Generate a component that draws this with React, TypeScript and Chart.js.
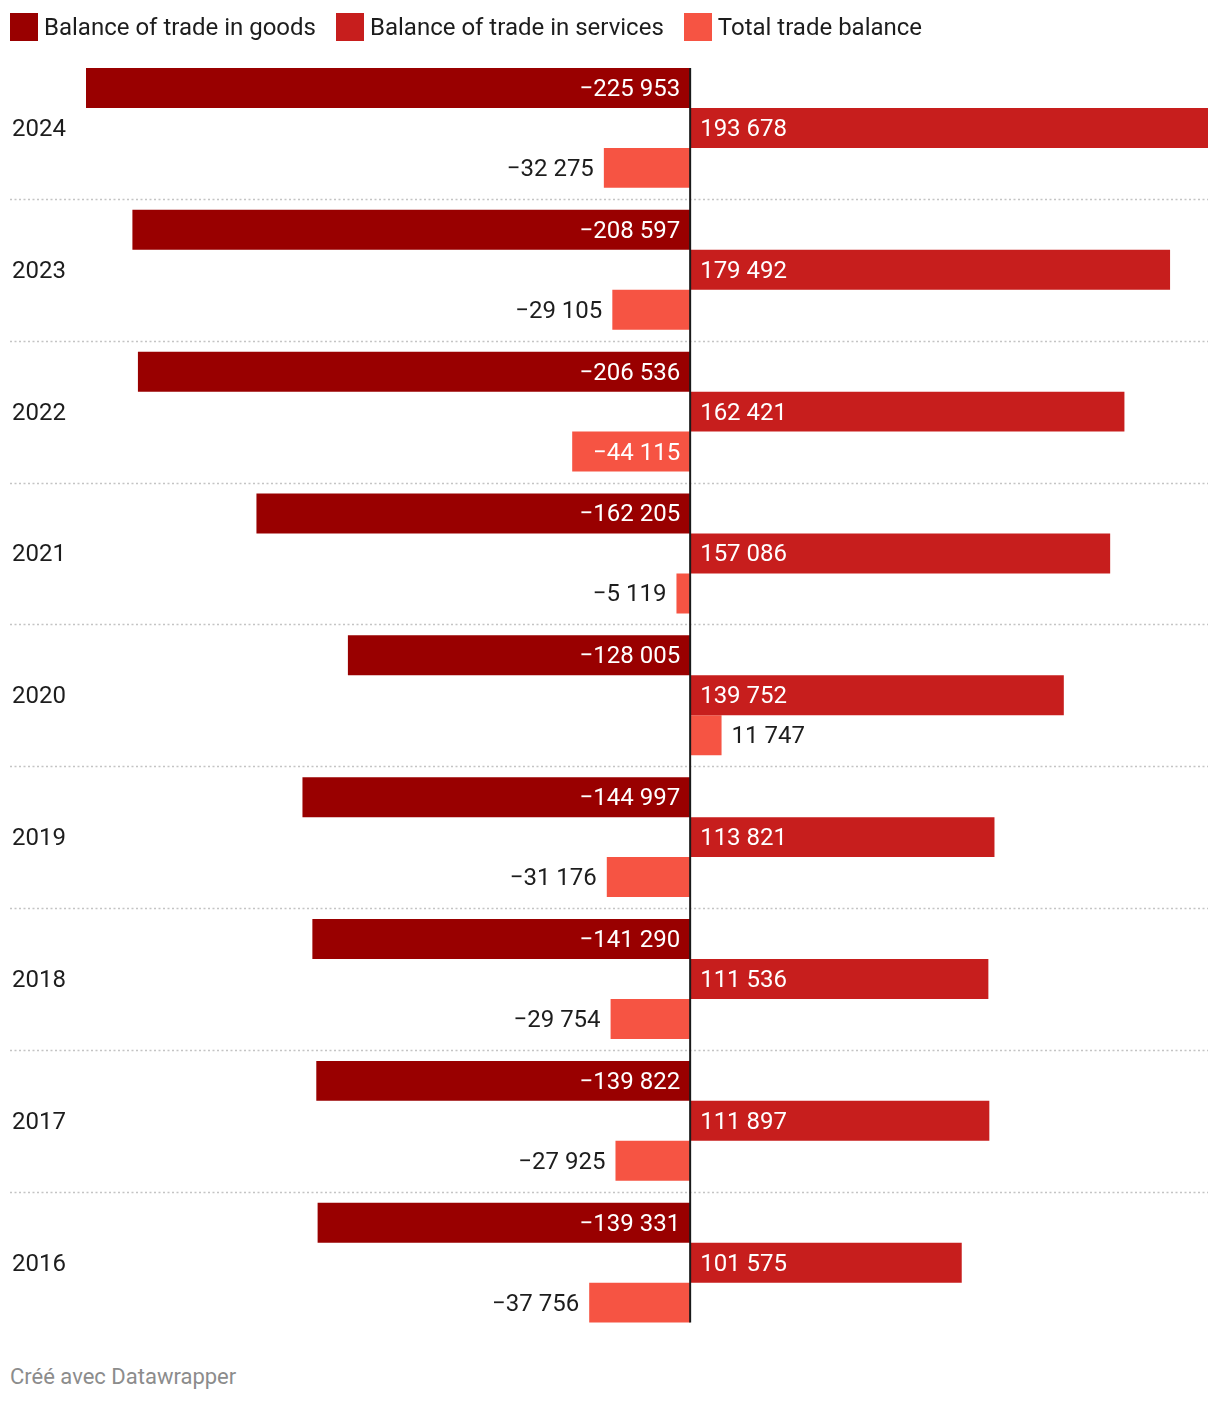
import React, { useEffect, useRef } from "react";
import { Chart, registerables } from "chart.js";

Chart.register(...registerables);

const years = ["2024", "2023", "2022", "2021", "2020", "2019", "2018", "2017", "2016"];
const goods = [-225953, -208597, -206536, -162205, -128005, -144997, -141290, -139822, -139331];
const services = [193678, 179492, 162421, 157086, 139752, 113821, 111536, 111897, 101575];
const total = [-32275, -29105, -44115, -5119, 11747, -31176, -29754, -27925, -37756];
const seriesNames = ["Balance of trade in goods", "Balance of trade in services", "Total trade balance"];
const seriesColors = ["#990000", "#c71e1d", "#f65443"];

const FONT = "Roboto, 'Noto Sans', sans-serif";

function fmt(v: number): string {
  const s = Math.abs(v).toString().replace(/\B(?=(\d{3})+(?!\d))/g, " ");
  return (v < 0 ? "\u2212" : "") + s;
}

const decor = {
  id: "decor",
  beforeDatasetsDraw(chart: any) {
    const { ctx, chartArea, scales } = chart;
    const y = scales.y;
    ctx.save();
    ctx.strokeStyle = "#c4c4c4";
    ctx.lineWidth = 1.5;
    ctx.setLineDash([2, 2.5]);
    for (let i = 0; i < years.length - 1; i++) {
      const py = Math.round((y.getPixelForValue(i) + y.getPixelForValue(i + 1)) / 2) + 0.5;
      ctx.beginPath();
      ctx.moveTo(2, py);
      ctx.lineTo(chartArea.right, py);
      ctx.stroke();
    }
    ctx.restore();
  },
  afterDatasetsDraw(chart: any) {
    const { ctx, scales } = chart;
    const x0 = scales.x.getPixelForValue(0);
    ctx.save();
    ctx.font = `24px ${FONT}`;
    ctx.textBaseline = "middle";
    chart.data.datasets.forEach((ds: any, di: number) => {
      const meta = chart.getDatasetMeta(di);
      meta.data.forEach((bar: any, i: number) => {
        const v = ds.data[i] as number;
        const t = fmt(v);
        const w = ctx.measureText(t).width;
        const bw = Math.abs(bar.x - bar.base);
        const inside = w + 20 <= bw;
        let tx: number;
        if (inside) {
          ctx.fillStyle = "#ffffff";
          if (v < 0) { ctx.textAlign = "right"; tx = bar.base - 10; }
          else { ctx.textAlign = "left"; tx = bar.base + 10; }
        } else {
          ctx.fillStyle = "#1d1d1d";
          if (v < 0) { ctx.textAlign = "right"; tx = bar.x - 10; }
          else { ctx.textAlign = "left"; tx = bar.x + 10; }
        }
        ctx.fillText(t, tx, bar.y + 2);
      });
    });
    const m0 = chart.getDatasetMeta(0).data[0];
    const m2 = chart.getDatasetMeta(2).data[years.length - 1];
    ctx.strokeStyle = "#1a1a1a";
    ctx.lineWidth = 2;
    ctx.beginPath();
    ctx.moveTo(x0, m0.y - m0.height / 2);
    ctx.lineTo(x0, m2.y + m2.height / 2);
    ctx.stroke();
    ctx.restore();
  },
};

export default function App() {
  const ref = useRef<HTMLCanvasElement | null>(null);

  useEffect(() => {
    if (!ref.current) return;
    const chart = new Chart(ref.current, {
      type: "bar",
      data: {
        labels: years,
        datasets: [goods, services, total].map((d, k) => ({
          label: seriesNames[k],
          data: d,
          backgroundColor: seriesColors[k],
          borderWidth: 0,
          categoryPercentage: 120 / 142,
          barPercentage: 1,
        })),
      },
      options: {
        indexAxis: "y",
        animation: false,
        responsive: true,
        maintainAspectRatio: false,
        layout: { padding: { left: 4, right: 4, top: 49, bottom: 13 } },
        scales: {
          x: { type: "linear", min: -225953, max: 193678, display: false },
          y: {
            grid: { display: false },
            border: { display: false },
            ticks: {
              crossAlign: "far",
              padding: 0,
              labelOffset: 2,
              color: "#1d1d1d",
              font: { family: FONT, size: 24 },
            },
            afterFit(scale: any) {
              scale.width = 74;
            },
          },
        },
        plugins: {
          legend: { display: false },
          tooltip: { enabled: false },
        },
      } as any,
      plugins: [decor],
    });
    return () => chart.destroy();
  }, []);

  return (
    <div style={{ position: "relative", width: 1204, height: 1386, fontFamily: FONT }}>
      <div
        style={{
          position: "absolute",
          top: 5,
          left: 2,
          display: "flex",
          alignItems: "center",
          fontSize: 24,
          lineHeight: "28px",
          color: "#1d1d1d",
          zIndex: 2,
        }}
      >
        {seriesNames.map((n, k) => (
          <div key={n} style={{ display: "flex", alignItems: "center", marginRight: 20 }}>
            <span style={{ display: "inline-block", width: 28, height: 28, background: seriesColors[k] }} />
            <span style={{ marginLeft: 6, whiteSpace: "nowrap" }}>{n}</span>
          </div>
        ))}
      </div>
      <div style={{ position: "absolute", top: 0, left: 0, width: 1204, height: 1340 }}>
        <canvas ref={ref} />
      </div>
      <div
        style={{
          position: "absolute",
          top: 1355,
          left: 2,
          fontSize: 22,
          lineHeight: "28px",
          color: "#8c8c8c",
          whiteSpace: "nowrap",
        }}
      >
        Créé avec Datawrapper
      </div>
    </div>
  );
}
